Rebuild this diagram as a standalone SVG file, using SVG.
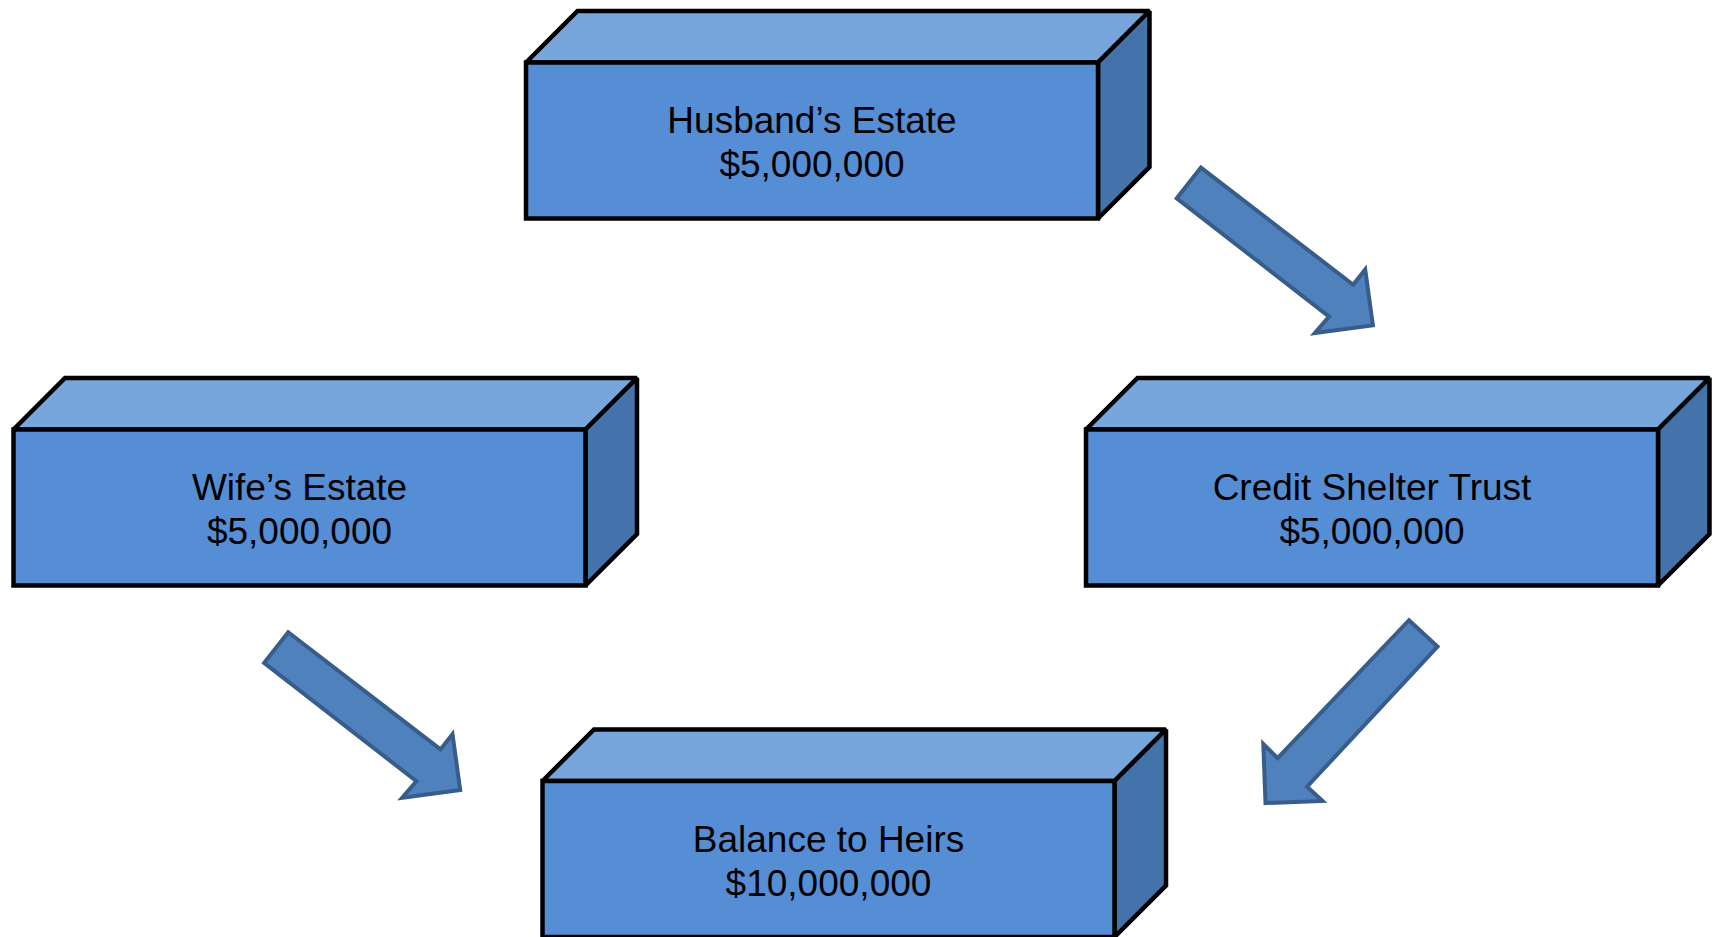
<svg xmlns="http://www.w3.org/2000/svg" width="1718" height="937" viewBox="0 0 1718 937">
<style>
.front{fill:#558ED5;stroke:#000;stroke-width:4.5;stroke-linejoin:miter;stroke-miterlimit:2}
.top{fill:#77A6DD;stroke:#000;stroke-width:4.5;stroke-linejoin:miter;stroke-miterlimit:2}
.side{fill:#4472AA;stroke:#000;stroke-width:4.5;stroke-linejoin:miter;stroke-miterlimit:2}
.lbl{font-family:"Liberation Sans",Arial,sans-serif;font-size:37px;fill:#000;text-anchor:middle}
.arrow{fill:#4F81BD;stroke:#385D8A;stroke-width:4;stroke-linejoin:miter;stroke-miterlimit:4}
</style>
<defs>
<g id="box">
<polygon class="top" points="0,51.5 51.5,0 623.5,0 572,51.5"/>
<polygon class="side" points="572,51.5 623.5,0 623.5,156 572,207.5"/>
<rect class="front" x="0" y="51.5" width="572" height="156"/>
</g>
<polygon id="arr" class="arrow" points="264.1,662.9 288.2,632.2 440.5,749.4 452.5,734.1 460.2,790 402.1,797.7 416.4,781.2"/>
</defs>
<rect width="1718" height="937" fill="#fff"/>
<g id="connectors">
<use href="#arr" transform="translate(912.7,-464.6)"/>
<use href="#arr"/>
<polygon class="arrow" points="1409,620.2 1437.5,646.5 1307.1,786.7 1322.5,800.9 1265.5,803.1 1263.3,744 1277.6,758.2"/>
</g>
<g id="husband">
<use href="#box" transform="translate(526,11)"/>
<text class="lbl" x="812" y="133">Husband’s Estate</text>
<text class="lbl" x="812" y="177">$5,000,000</text>
</g>
<g id="wife">
<use href="#box" transform="translate(13.5,378)"/>
<text class="lbl" x="299.5" y="500">Wife’s Estate</text>
<text class="lbl" x="299.5" y="544">$5,000,000</text>
</g>
<g id="trust">
<use href="#box" transform="translate(1086,378)"/>
<text class="lbl" x="1372" y="500">Credit Shelter Trust</text>
<text class="lbl" x="1372" y="544">$5,000,000</text>
</g>
<g id="heirs">
<use href="#box" transform="translate(542.5,729.5)"/>
<text class="lbl" x="828.5" y="851.5">Balance to Heirs</text>
<text class="lbl" x="828.5" y="895.5">$10,000,000</text>
</g>
</svg>
